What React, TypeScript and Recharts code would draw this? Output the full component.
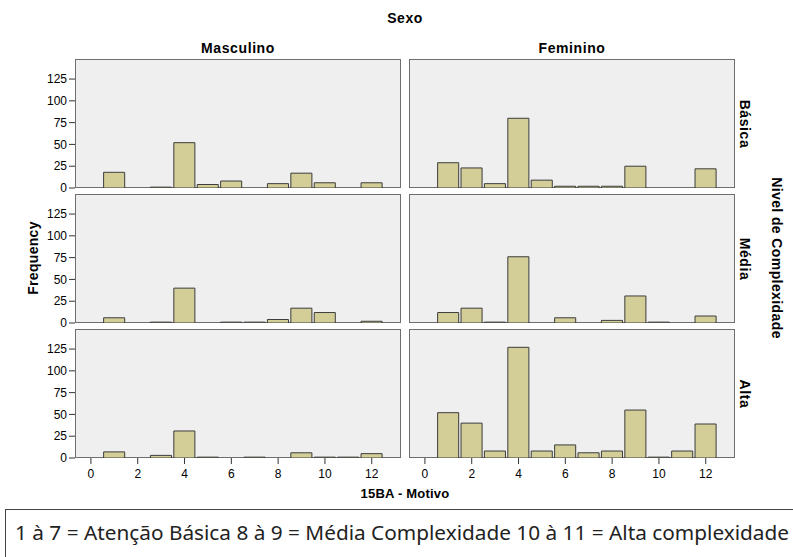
import React from 'react';
import { BarChart, Bar, XAxis, YAxis } from 'recharts';

// 15BA - Motivo categories
const MOTIVO = [1, 2, 3, 4, 5, 6, 7, 8, 9, 10, 11, 12];

// frequencies per Sexo x Nivel de Complexidade (0 = no bar)
const MASC_BASICA = [18, 0, 1, 52, 4, 8, 0, 5, 17, 6, 0, 6];
const FEM_BASICA = [29, 23, 5, 80, 9, 2, 2, 2, 25, 0, 0, 22];
const MASC_MEDIA = [6, 0, 1, 40, 0, 1, 1, 4, 17, 12, 0, 2];
const FEM_MEDIA = [12, 17, 1, 76, 0, 6, 0, 3, 31, 1, 0, 8];
const MASC_ALTA = [7, 0, 3, 31, 1, 0, 1, 0, 6, 1, 1, 5];
const FEM_ALTA = [52, 40, 8, 127, 8, 15, 6, 8, 55, 1, 8, 39];

const X_TICKS = [0, 2, 4, 6, 8, 10, 12];
const Y_TICKS = [0, 25, 50, 75, 100, 125];
const COL_LABELS = ['Masculino', 'Feminino'];
const ROW_LABELS = ['Básica', 'Média', 'Alta'];

const X_DOMAIN: [number, number] = [-0.68, 13.25];
const Y_DOMAIN: [number, number] = [0, 148];

const COL_X = [75, 409];
const ROW_Y = [59, 194, 329];
const PANEL_W = 326;
const PANEL_H = 129;
const BAR_W = PANEL_W / (X_DOMAIN[1] - X_DOMAIN[0]);

const FONT = '"Liberation Sans", Arial, sans-serif';
const tickStyle = { fill: '#000', fontSize: 12, fontFamily: FONT };

interface PanelProps {
  values: number[];
  col: number;
  row: number;
}

const Panel: React.FC<PanelProps> = ({ values, col, row }) => {
  const showY = col === 0;
  const showX = row === 2;
  const yAxisW = showY ? 45 : 0;
  const xAxisH = showX ? 30 : 0;
  const padBottom = showX ? 0 : 8; // room for the "0" label
  const x = COL_X[col];
  const y = ROW_Y[row];
  const data = MOTIVO.map((m, i) => ({ motivo: m, count: values[i] > 0 ? values[i] : null }));

  return (
    <>
      <div
        style={{
          position: 'absolute', left: x, top: y, width: PANEL_W, height: PANEL_H,
          background: '#efefef', border: '1px solid #6e6e6e', boxSizing: 'border-box',
        }}
      />
      <div style={{ position: 'absolute', left: x - yAxisW, top: y }}>
        <BarChart
          width={PANEL_W + yAxisW}
          height={PANEL_H + xAxisH + padBottom}
          data={data}
          margin={{ top: 0, right: 0, bottom: padBottom, left: 0 }}
        >
          <XAxis
            type="number"
            dataKey="motivo"
            domain={X_DOMAIN}
            ticks={X_TICKS}
            interval={0}
            allowDataOverflow
            hide={!showX}
            height={xAxisH}
            axisLine={false}
            tickLine={{ stroke: '#333' }}
            tickSize={6}
            tickMargin={5}
            tick={tickStyle}
          />
          <YAxis
            type="number"
            domain={Y_DOMAIN}
            ticks={Y_TICKS}
            interval={0}
            allowDataOverflow
            hide={!showY}
            width={yAxisW}
            axisLine={false}
            tickLine={{ stroke: '#333' }}
            tickSize={6}
            tick={tickStyle}
          />
          <Bar
            dataKey="count"
            fill="#d3ce98"
            stroke="#3c3c3c"
            strokeWidth={1}
            barSize={BAR_W}
            isAnimationActive={false}
          />
        </BarChart>
      </div>
    </>
  );
};

const boldText = (extra: React.CSSProperties): React.CSSProperties => ({
  position: 'absolute', fontFamily: FONT, fontWeight: 'bold', fontSize: 14,
  color: '#000', whiteSpace: 'nowrap', lineHeight: 1, ...extra,
});

export default function App() {
  const grid = [
    [MASC_BASICA, FEM_BASICA],
    [MASC_MEDIA, FEM_MEDIA],
    [MASC_ALTA, FEM_ALTA],
  ];
  const rowCenters = ROW_Y.map(y => y + PANEL_H / 2);

  return (
    <div style={{ position: 'absolute', left: 0, top: 0, width: 793, height: 557, background: '#fff', overflow: 'hidden' }}>
      <div style={boldText({ left: 405, top: 11, transform: 'translateX(-50%)', letterSpacing: 0.5 })}>Sexo</div>
      {COL_LABELS.map((lab, i) => (
        <div key={lab} style={boldText({ left: COL_X[i] + PANEL_W / 2, top: 41, transform: 'translateX(-50%)', letterSpacing: 0.6 })}>
          {lab}
        </div>
      ))}

      {grid.map((rowVals, r) =>
        rowVals.map((vals, c) => <Panel key={`${r}-${c}`} values={vals} col={c} row={r} />)
      )}

      {ROW_LABELS.map((lab, i) => (
        <div
          key={lab}
          style={boldText({ left: 745, top: rowCenters[i], transform: 'translate(-50%, -50%) rotate(90deg)', letterSpacing: 0.6 })}
        >
          {lab}
        </div>
      ))}

      <div style={boldText({ left: 777, top: 258, transform: 'translate(-50%, -50%) rotate(90deg)', letterSpacing: 0.4 })}>
        Nivel de Complexidade
      </div>
      <div style={boldText({ left: 33, top: 258, transform: 'translate(-50%, -50%) rotate(-90deg)', letterSpacing: 0.3 })}>
        Frequency
      </div>
      <div style={boldText({ left: 405, top: 487, transform: 'translateX(-50%)', fontSize: 13, letterSpacing: 0.2 })}>
        15BA - Motivo
      </div>

      <div
        style={{
          position: 'absolute', left: 5, top: 509, width: 800, height: 60,
          border: '1px solid #444', boxSizing: 'border-box',
        }}
      />
      <svg style={{ position: 'absolute', left: 0, top: 509 }} width={793} height={48}>
        <text
          x={15}
          y={31}
          fontFamily='"Noto Sans", sans-serif'
          fontSize={19}
          fill="#222"
          textLength={774}
          lengthAdjust="spacingAndGlyphs"
        >
          1 à 7 = Atenção Básica 8 à 9 = Média Complexidade 10 à 11 = Alta complexidade
        </text>
      </svg>
    </div>
  );
}
